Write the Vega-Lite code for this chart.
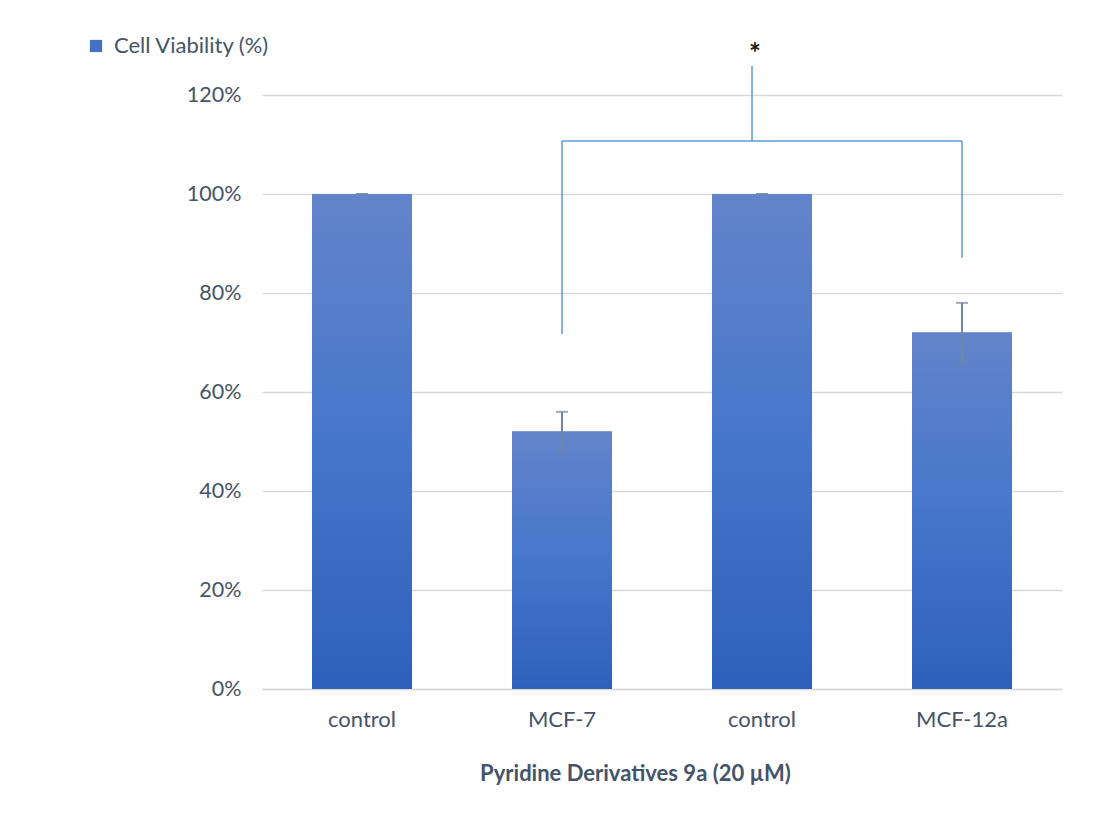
{
  "$schema": "https://vega.github.io/schema/vega-lite/v6.json",
  "autosize": "none",
  "width": 800,
  "height": 594,
  "padding": {"left": 262, "top": 95, "right": 39, "bottom": 132},
  "background": "white",
  "config": {
    "view": {"stroke": null},
    "font": "Lato",
    "axis": {"labelFont": "Lato", "titleFont": "Lato", "labelColor": "#44546A", "titleColor": "#44546A"}
  },
  "datasets": {
    "bars": [
      {"cat": "control_1", "value": 1.0, "err": 0.0, "series": "Cell Viability (%)"},
      {"cat": "MCF-7", "value": 0.52, "err": 0.04, "series": "Cell Viability (%)"},
      {"cat": "control_2", "value": 1.0, "err": 0.0, "series": "Cell Viability (%)"},
      {"cat": "MCF-12a", "value": 0.72, "err": 0.06, "series": "Cell Viability (%)"}
    ],
    "legs": [
      {"cat": "MCF-7", "y1": 0.717, "y2": 1.107},
      {"cat": "MCF-12a", "y1": 0.871, "y2": 1.107}
    ],
    "top": [
      {"from": "MCF-7", "to": "MCF-12a", "y": 1.107}
    ],
    "mid": [
      {"cat": "control_2", "y1": 1.107, "y2": 1.259}
    ],
    "star": [
      {"cat": "control_2", "y": 1.297, "label": "*"}
    ]
  },
  "layer": [
    {
      "data": {"name": "bars"},
      "mark": {"type": "bar", "opacity": 1},
      "encoding": {
        "x": {
          "field": "cat", "type": "nominal", "sort": null,
          "scale": {"paddingInner": 0.5, "paddingOuter": 0.25},
          "axis": {
            "title": "Pyridine Derivatives 9a (20 µM)",
            "labelExpr": "indexof(datum.value, 'control') == 0 ? 'control' : datum.value",
            "labelAngle": 0, "labelFontSize": 22, "labelPadding": 20,
            "ticks": false, "domain": true, "domainColor": "#D9D9D9", "domainWidth": 1.5,
            "titleFontSize": 22, "titleFontWeight": "bold", "titlePadding": 33, "titleX": 373
          }
        },
        "y": {
          "field": "value", "type": "quantitative",
          "scale": {"domain": [0, 1.2]},
          "axis": {
            "title": null, "format": ".0%", "values": [0, 0.2, 0.4, 0.6, 0.8, 1.0, 1.2],
            "labelFontSize": 21.5, "labelPadding": 21, "ticks": false, "domain": false,
            "grid": true, "gridColor": "#D9D9D9", "gridWidth": 1.5
          }
        },
        "color": {
          "field": "series", "type": "nominal",
          "scale": {"range": ["#4470C6"]},
          "legend": {
            "title": null, "orient": "none", "legendX": -177, "legendY": -60,
            "symbolType": "square", "symbolSize": 150, "symbolStrokeWidth": 0,
            "labelFontSize": 22, "labelColor": "#44546A", "labelFont": "Lato", "labelOffset": 7
          }
        }
      }
    },
    {
      "data": {"name": "bars"},
      "mark": {
        "type": "bar",
        "fill": {
          "gradient": "linear", "x1": 0, "y1": 0, "x2": 0, "y2": 1,
          "stops": [{"offset": 0, "color": "#6384CA"}, {"offset": 0.5, "color": "#4676CB"}, {"offset": 1, "color": "#2E61BB"}]
        }
      },
      "encoding": {
        "x": {"field": "cat", "type": "nominal", "sort": null},
        "y": {"field": "value", "type": "quantitative"}
      }
    },
    {
      "data": {"name": "bars"},
      "transform": [
        {"calculate": "datum.value - datum.err", "as": "lo"},
        {"calculate": "datum.value + datum.err", "as": "hi"}
      ],
      "layer": [
        {
          "mark": {"type": "rule", "color": "#6F86A5", "strokeWidth": 2},
          "encoding": {
            "x": {"field": "cat", "type": "nominal", "sort": null},
            "y": {"field": "lo", "type": "quantitative"},
            "y2": {"field": "hi"}
          }
        },
        {
          "mark": {"type": "tick", "color": "#6F86A5", "thickness": 2, "size": 12, "orient": "horizontal"},
          "encoding": {
            "x": {"field": "cat", "type": "nominal", "sort": null},
            "y": {"field": "lo", "type": "quantitative"}
          }
        },
        {
          "mark": {"type": "tick", "color": "#6F86A5", "thickness": 2, "size": 12, "orient": "horizontal"},
          "encoding": {
            "x": {"field": "cat", "type": "nominal", "sort": null},
            "y": {"field": "hi", "type": "quantitative"}
          }
        }
      ]
    },
    {
      "data": {"name": "legs"},
      "mark": {"type": "rule", "color": "#5B9BD5", "strokeWidth": 1.5},
      "encoding": {
        "x": {"field": "cat", "type": "nominal", "sort": null},
        "y": {"field": "y1", "type": "quantitative"},
        "y2": {"field": "y2"}
      }
    },
    {
      "data": {"name": "top"},
      "mark": {"type": "rule", "color": "#5B9BD5", "strokeWidth": 1.5},
      "encoding": {
        "x": {"field": "from", "type": "nominal", "sort": null},
        "x2": {"field": "to"},
        "y": {"field": "y", "type": "quantitative"}
      }
    },
    {
      "data": {"name": "mid"},
      "mark": {"type": "rule", "color": "#5B9BD5", "strokeWidth": 1.5, "xOffset": -10},
      "encoding": {
        "x": {"field": "cat", "type": "nominal", "sort": null},
        "y": {"field": "y1", "type": "quantitative"},
        "y2": {"field": "y2"}
      }
    },
    {
      "data": {"name": "star"},
      "mark": {"type": "text", "color": "#1A1A1A", "fontSize": 28, "fontWeight": "bold", "xOffset": -7, "baseline": "middle", "dy": 8},
      "encoding": {
        "x": {"field": "cat", "type": "nominal", "sort": null},
        "y": {"field": "y", "type": "quantitative"},
        "text": {"field": "label"}
      }
    }
  ]
}
